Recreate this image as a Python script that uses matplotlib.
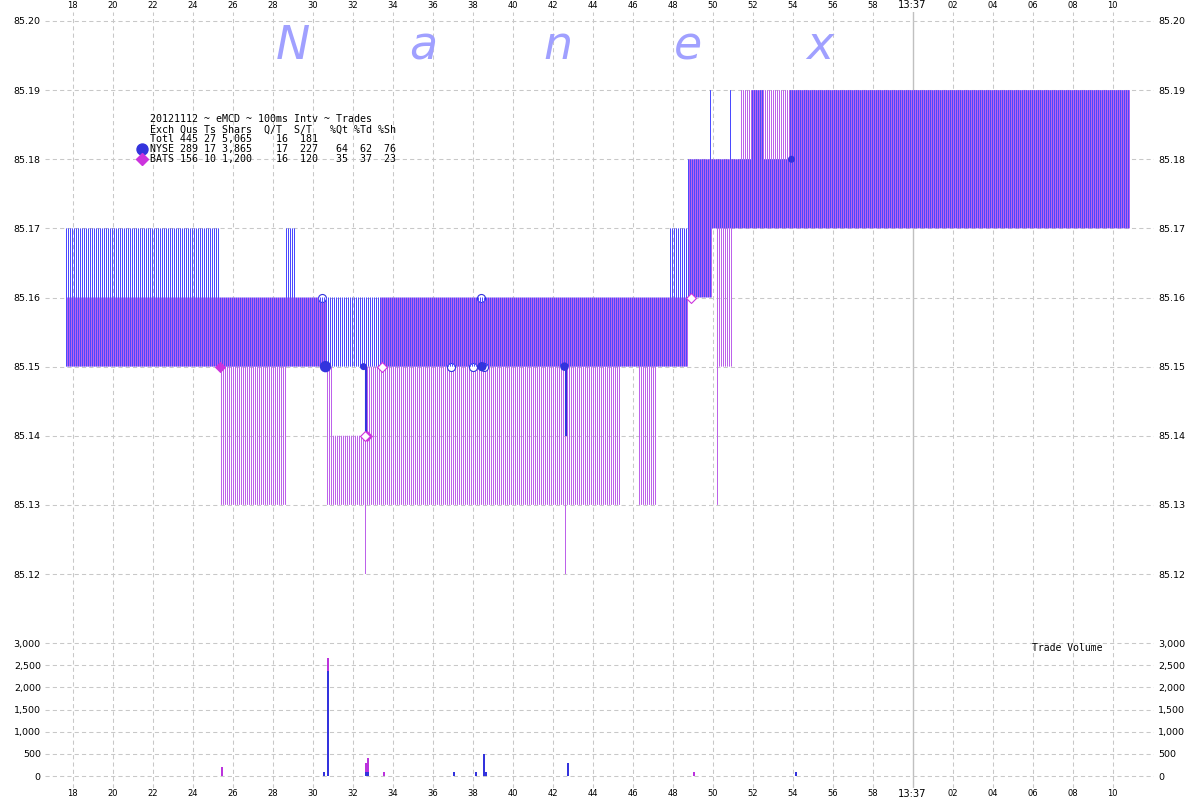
import numpy as np
import matplotlib
matplotlib.use('Agg')
import matplotlib.pyplot as plt

# ---------------- data (seconds after 13:36:00) ----------------
nyse_t   = [17.7, 25.4, 28.7, 29.2, 47.9, 48.8, 49.9, 50.0, 50.9, 51.0, 52.0, 52.6, 53.9]
nyse_bid = [85.15, 85.15, 85.15, 85.15, 85.15, 85.16, 85.16, 85.17, 85.17, 85.17, 85.17, 85.17, 85.17]
nyse_ask = [85.17, 85.16, 85.17, 85.16, 85.17, 85.18, 85.19, 85.18, 85.19, 85.18, 85.19, 85.18, 85.19]

bats_t   = [17.7, 25.4, 28.7, 30.7, 31.0, 32.6, 32.7, 33.4, 42.6, 42.7, 45.4, 46.3, 47.2, 48.8, 50.0, 50.2, 50.3, 51.0, 51.4]
bats_bid = [85.15, 85.13, 85.15, 85.13, 85.13, 85.12, 85.13, 85.13, 85.12, 85.13, 85.15, 85.13, 85.15, 85.16, 85.17, 85.13, 85.15, 85.17, 85.17]
bats_ask = [85.16, 85.16, 85.16, 85.15, 85.14, 85.14, 85.15, 85.16, 85.16, 85.16, 85.16, 85.16, 85.16, 85.18, 85.18, 85.18, 85.18, 85.18, 85.19]
quote_start, quote_end = 17.7, 70.9

nyse_fill_t   = [30.65, 32.55, 38.47, 42.60, 53.95]
nyse_fill_p   = [85.15, 85.15, 85.15, 85.15, 85.18]
nyse_fill_vol = [2365, 100, 500, 300, 100]
nyse_open_t   = [30.45, 36.93, 38.03, 38.42, 38.55]
nyse_open_p   = [85.16, 85.15, 85.15, 85.16, 85.15]
nyse_rng_t    = [32.66, 42.65]
nyse_rng_lo   = [85.14, 85.14]
nyse_rng_hi   = [85.15, 85.15]

bats_fill_t = [25.38, 32.70]
bats_fill_p = [85.15, 85.14]
bats_open_t = [32.60, 33.47, 48.92]
bats_open_p = [85.14, 85.15, 85.16]

vol_t_nyse = [30.5, 30.7, 32.6, 32.7, 37.0, 38.1, 38.5, 38.6, 42.7, 54.1]
vol_nyse   = [100, 2365, 100, 100, 100, 100, 500, 100, 300, 100]
vol_t_bats = [25.4, 30.7, 32.6, 32.7, 33.5, 49.0]
vol_bats   = [200, 300, 200, 300, 100, 100]

x_ticks = list(range(18, 71, 2))
x_labels = ['13:37' if t == 60 else '%02d' % (t % 60) for t in x_ticks]
price_ticks = [85.12, 85.13, 85.14, 85.15, 85.16, 85.17, 85.18, 85.19, 85.20]
vol_ticks = [0, 500, 1000, 1500, 2000, 2500, 3000]

legend_lines = [
    "20121112 ~ eMCD ~ 100ms Intv ~ Trades",
    "Exch Qus Ts Shars  Q/T  S/T   %Qt %Td %Sh",
    "Totl 445 27 5,065    16  181",
    "NYSE 289 17 3,865    17  227   64  62  76",
    "BATS 156 10 1,200    16  120   35  37  23",
]
watermark = ['N', 'a', 'n', 'e', 'x']

# ---------------- styling ----------------
NYSE_LINE = '#4a4aff'
BATS_LINE = '#bd62ea'
NYSE_MARK = '#3333dd'
BATS_MARK = '#cc33dd'
GRID = '#c8c8c8'

W, H = 1200, 800
fig = plt.figure(figsize=(12, 8), dpi=100)
fx = lambda px: px / W
fy = lambda py: 1 - py / H

L, R = 45, 1154
P_TOP, P_BOT = 12, 606
V_TOP, V_BOT = 606, 788
PX_PER_S = 20.0
x0 = quote_start - 21.5 / PX_PER_S      # first interval lands on a pixel centre
x1 = x0 + (R - L) / PX_PER_S

ax = fig.add_axes([fx(L), fy(P_BOT), (R - L) / W, (P_BOT - P_TOP) / H])
axv = fig.add_axes([fx(L), fy(V_BOT), (R - L) / W, (V_BOT - V_TOP) / H])

pp = 6912.5  # px per price unit
ax.set_ylim(85.12 - (P_BOT - 574) / pp, 85.20 + (21 - P_TOP) / pp)
vp = 133 / 3000.0
axv.set_ylim(-(V_BOT - 776) / vp, 3000 + (643 - V_TOP) / vp)

for a in (ax, axv):
    a.set_xlim(x0, x1)
    for s in a.spines.values():
        s.set_visible(False)
    a.set_xticks(x_ticks)
    a.set_xticklabels(x_labels)
    for t in x_ticks:
        if t == 60:
            a.axvline(t, color='#c0c0c0', lw=1.0, zorder=0.5)
        else:
            a.axvline(t, color=GRID, lw=0.75, ls=(0, (4, 3)), zorder=0.5)
    a.grid(True, axis='y', color=GRID, lw=0.75, ls=(0, (4, 3)), zorder=0.5)
    a.set_axisbelow(True)
    a.tick_params(axis='y', left=True, right=True, labelleft=True, labelright=True,
                  length=0, pad=3, labelsize=6.8)

ax.tick_params(axis='x', top=True, bottom=False, labeltop=True, labelbottom=False,
               length=0, pad=1.5, labelsize=6)
axv.tick_params(axis='x', top=False, bottom=True, labeltop=False, labelbottom=True,
                length=0, pad=1, labelsize=6)
for a in (ax, axv):
    for tick, t in zip(a.xaxis.get_major_ticks(), x_ticks):
        if t == 60:
            tick.label1.set_fontsize(7.2)
            tick.label2.set_fontsize(7.2)

ax.set_yticks(price_ticks)
ax.set_yticklabels(['%.2f' % p for p in price_ticks])
axv.set_yticks(vol_ticks)
axv.set_yticklabels(['{:,}'.format(v) for v in vol_ticks])

# ---------------- quote stripes (one line per 100 ms interval) ----------------
grid_t = np.arange(int(round(quote_start * 10)), int(round(quote_end * 10))) / 10.0

def step_lookup(times, vals, g):
    idx = np.searchsorted(np.asarray(times), g + 1e-6, side='right') - 1
    return np.asarray(vals)[idx]

nb = step_lookup(nyse_t, nyse_bid, grid_t)
na = step_lookup(nyse_t, nyse_ask, grid_t)
bb = step_lookup(bats_t, bats_bid, grid_t)
ba = step_lookup(bats_t, bats_ask, grid_t)

ax.vlines(grid_t + 0.05, bb, ba, colors=BATS_LINE, lw=0.72, snap=False, zorder=2)
ax.vlines(grid_t, nb, na, colors=NYSE_LINE, lw=0.72, snap=False, zorder=3)

# ---------------- trades ----------------
ax.vlines(nyse_rng_t, nyse_rng_lo, nyse_rng_hi, colors=NYSE_MARK, lw=1.5, zorder=4)
ax.scatter(nyse_open_t, nyse_open_p, s=(8 * 0.72) ** 2, facecolor='white',
           edgecolor=NYSE_MARK, linewidth=0.8, zorder=2.5)
d = 6 + 1.4 * np.log(np.asarray(nyse_fill_vol) / 50.0)
ax.scatter(nyse_fill_t, nyse_fill_p, s=(d * 0.72) ** 2, color=NYSE_MARK, zorder=4.5, linewidth=0)
ax.scatter(bats_fill_t, bats_fill_p, s=(8 * 0.72) ** 2, marker='D', color=BATS_MARK,
           zorder=5, linewidth=0)
ax.scatter(bats_open_t, bats_open_p, s=(7 * 0.72) ** 2, marker='D', facecolor='white',
           edgecolor=BATS_MARK, linewidth=0.8, zorder=5)

# ---------------- volume ----------------
axv.bar(vol_t_nyse, vol_nyse, width=0.1, align='edge', color=NYSE_MARK, zorder=3, linewidth=0)
nyse_by_t = dict(zip(vol_t_nyse, vol_nyse))
bats_bottom = [nyse_by_t.get(t, 0) for t in vol_t_bats]
axv.bar(vol_t_bats, vol_bats, bottom=bats_bottom, width=0.1, align='edge',
        color='#bb33dd', zorder=3, linewidth=0)
fig.text(fx(1032), fy(648), 'Trade Volume', fontsize=7, family='DejaVu Sans Mono',
         va='center', ha='left')

# ---------------- legend block ----------------
for i, line in enumerate(legend_lines):
    fig.text(fx(150), fy(119.5 + 9.9 * i), line, fontsize=7.2, family='DejaVu Sans Mono',
             va='center', ha='left')
fig.add_artist(plt.Line2D([fx(142)], [fy(148.5)], marker='o', markersize=11 * 0.72,
                          color=NYSE_MARK, linestyle='none', transform=fig.transFigure))
fig.add_artist(plt.Line2D([fx(142)], [fy(158.5)], marker='D', markersize=8 * 0.72,
                          color=BATS_MARK, linestyle='none', transform=fig.transFigure))

# ---------------- watermark ----------------
for ch, xc in zip(watermark, [293, 423, 558, 688, 820]):
    fig.text(fx(xc), fy(59), ch, fontsize=33, style='italic', color='#a0a0ff',
             ha='center', va='baseline')

fig.savefig('out.png', dpi=100, facecolor='white')
